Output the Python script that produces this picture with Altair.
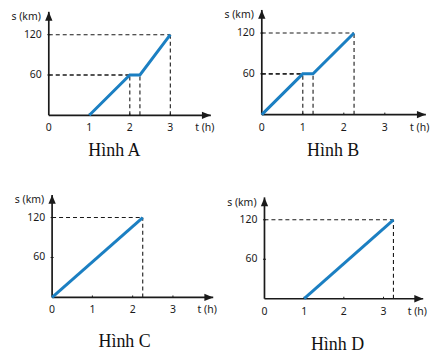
import altair as alt
import pandas as pd

# ---- data ----
panel_names = ["Hình A", "Hình B", "Hình C", "Hình D"]
t_A = [1, 2, 2.25, 3];    s_A = [0, 60, 60, 120]
t_B = [0, 1, 1.25, 2.25]; s_B = [0, 60, 60, 120]
t_C = [0, 2.25];          s_C = [0, 120]
t_D = [1, 3.25];          s_D = [0, 120]
x_ticks = [0, 1, 2, 3]
x_tick_labels = ["0", "1", "2", "3"]
y_ticks = [60, 120]
y_tick_labels = ["60", "120"]
x_axis_label = "t (h)"
y_axis_label = "s (km)"

# ---- layout (scale domains per panel, chosen to match the picture) ----
W, H = 207, 166
domains = {
    "Hình A": ([-1.007, 4.079], [-88.9, 157.0], (1.62, -53)),
    "Hình B": ([-0.995, 4.029], [-88.9, 154.2], (1.74, -53)),
    "Hình C": ([-1.095, 4.020], [-76.2, 171.9], (1.80, -67)),
    "Hình D": ([-1.096, 4.096], [-75.2, 175.9], (1.84, -70)),
}
X_TIP, Y_TIP = 4.0, 154
S_LABEL_Y = 146
BLUE = "#1b7fc2"
INK = "#1a1a1a"
SANS = "Noto Sans"
SERIF = "Liberation Serif"

ARROW_UP = "M0,0 L-0.7,1.7 L0.7,1.7 Z"
ARROW_RIGHT = "M0,0 L-1.7,-0.7 L-1.7,0.7 Z"
TICK_UP = "M0,0 L0,-1"
TICK_H = "M-1,0 L1,0"


def panel(name, ts, ss):
    xd, yd, (tx, ty) = domains[name]
    xs = alt.Scale(domain=xd, nice=False, zero=False)
    ys = alt.Scale(domain=yd, nice=False, zero=False)

    def X(f="x"):
        return alt.X(f"{f}:Q", scale=xs, axis=None)

    def Y(f="y"):
        return alt.Y(f"{f}:Q", scale=ys, axis=None)

    line_df = pd.DataFrame({"x": ts, "y": ss})
    kinks = [(t, s) for t, s in zip(ts, ss) if s > 0]
    hd = pd.DataFrame({"x": [0] * len(kinks), "x2": [k[0] for k in kinks],
                       "y": [k[1] for k in kinks]})
    vd = pd.DataFrame({"x": [k[0] for k in kinks], "y": [0] * len(kinks),
                       "y2": [k[1] for k in kinks]})

    dash_h = alt.Chart(hd).mark_rule(strokeDash=[4, 3], strokeWidth=1.1, color=INK).encode(
        x=X(), x2="x2:Q", y=Y())
    dash_v = alt.Chart(vd).mark_rule(strokeDash=[4, 3], strokeWidth=1.1, color=INK).encode(
        x=X(), y=Y(), y2="y2:Q")

    axes_df = pd.DataFrame({"x": [0, 0], "x2": [X_TIP, 0], "y": [0, 0], "y2": [0, Y_TIP]})
    axes = alt.Chart(axes_df).mark_rule(strokeWidth=1.7, color=INK).encode(
        x=X(), x2="x2:Q", y=Y(), y2="y2:Q")
    up = alt.Chart(pd.DataFrame({"x": [0], "y": [Y_TIP]})).mark_point(
        shape=ARROW_UP, filled=True, size=110, color=INK, opacity=1).encode(x=X(), y=Y())
    right = alt.Chart(pd.DataFrame({"x": [X_TIP], "y": [0]})).mark_point(
        shape=ARROW_RIGHT, filled=True, size=110, color=INK, opacity=1).encode(x=X(), y=Y())

    xt = alt.Chart(pd.DataFrame({"x": x_ticks[1:], "y": [0] * 3})).mark_point(
        shape=TICK_UP, filled=False, size=16, strokeWidth=1, color=INK, opacity=1).encode(x=X(), y=Y())
    yt = alt.Chart(pd.DataFrame({"x": [0, 0], "y": y_ticks})).mark_point(
        shape=TICK_H, filled=False, size=9, strokeWidth=1, color=INK, opacity=1).encode(x=X(), y=Y())

    blue = alt.Chart(line_df).mark_line(color=BLUE, strokeWidth=3, strokeCap="butt").encode(
        x=X(), y=Y(), order="x:Q")

    xl = alt.Chart(pd.DataFrame({"x": x_ticks, "y": [0] * 4, "l": x_tick_labels})).mark_text(
        font=SANS, fontSize=10.5, color=INK, baseline="middle", align="center", dy=13).encode(
        x=X(), y=Y(), text="l:N")
    yl = alt.Chart(pd.DataFrame({"x": [0, 0], "y": y_ticks, "l": y_tick_labels})).mark_text(
        font=SANS, fontSize=10.5, color=INK, baseline="middle", align="right", dx=-7).encode(
        x=X(), y=Y(), text="l:N")
    tl = alt.Chart(pd.DataFrame({"x": [3.85], "y": [0], "l": [x_axis_label]})).mark_text(
        font=SANS, fontSize=10.5, color=INK, baseline="middle", align="center", dy=13).encode(
        x=X(), y=Y(), text="l:N")
    sl = alt.Chart(pd.DataFrame({"x": [0], "y": [S_LABEL_Y], "l": [y_axis_label]})).mark_text(
        font=SANS, fontSize=10.5, color=INK, baseline="middle", align="right", dx=-8).encode(
        x=X(), y=Y(), text="l:N")
    title = alt.Chart(pd.DataFrame({"x": [tx], "y": [ty], "l": [name]})).mark_text(
        font=SERIF, fontSize=18, color="#111", baseline="middle", align="center").encode(
        x=X(), y=Y(), text="l:N")

    return alt.layer(dash_h, dash_v, axes, up, right, xt, yt, blue, xl, yl, tl, sl, title).properties(
        width=W, height=H)


pA = panel("Hình A", t_A, s_A)
pB = panel("Hình B", t_B, s_B)
pC = panel("Hình C", t_C, s_C)
pD = panel("Hình D", t_D, s_D)

chart = alt.concat(pA, pB, pC, pD, columns=2, spacing={"row": 8, "column": 7},
                   bounds="flush").properties(
    padding=0, background="white").configure_view(stroke=None)

chart.save("out.html", embed_options={"renderer": "svg", "actions": False})
